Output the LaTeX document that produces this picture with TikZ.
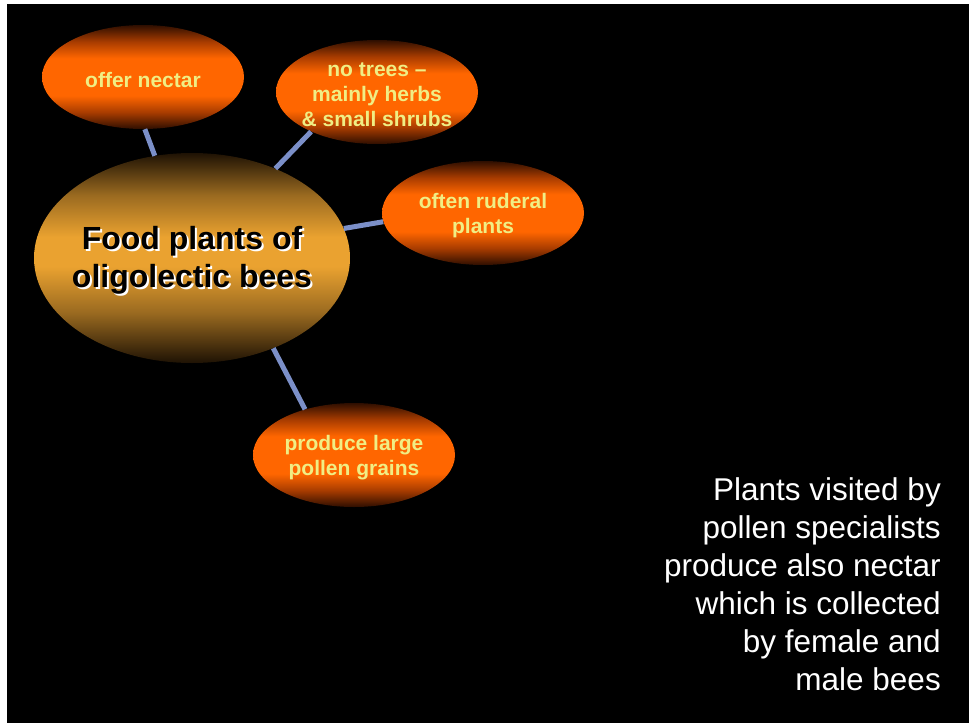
\documentclass[tikz,border=0pt]{standalone}
\usepackage{fontspec}
\setmainfont{Liberation Sans}
\usetikzlibrary{shapes.geometric}

\definecolor{linkblue}{HTML}{7B8FC8}
\definecolor{petalyellow}{HTML}{F0EE84}
\definecolor{petaldark}{HTML}{2E0E00}
\definecolor{petalmid}{HTML}{A83C00}
\definecolor{petalorange}{HTML}{FF6600}
\definecolor{fooddark}{HTML}{1E1204}
\definecolor{foodmid}{HTML}{9A6A20}
\definecolor{foodgold}{HTML}{EAA230}

\pgfdeclareverticalshading{petalshade}{100bp}{color(0bp)=(petaldark); color(25bp)=(petaldark); color(33bp)=(petalmid); color(41bp)=(petalorange); color(50bp)=(petalorange); color(59bp)=(petalorange); color(67bp)=(petalmid); color(75bp)=(petaldark); color(100bp)=(petaldark)}
\pgfdeclareverticalshading{foodshade}{100bp}{color(0bp)=(fooddark); color(25bp)=(fooddark); color(37bp)=(foodmid); color(48bp)=(foodgold); color(55bp)=(foodgold); color(65bp)=(foodmid); color(75bp)=(fooddark); color(100bp)=(fooddark)}

\newcommand\petalfont{\fontsize{21}{25}\selectfont\bfseries}
\newcommand\foodfont{\fontsize{32}{38}\selectfont\bfseries}
\newcommand\notefont{\fontsize{31.5}{38}\selectfont}
% black line with a white drop shadow
\newcommand\foodline[1]{\makebox[0pt][l]{\kern2pt\raisebox{-2pt}{\textcolor{white}{#1}}}#1}

\tikzset{
    petal/.style={ellipse, minimum width=202pt, minimum height=104pt, inner sep=0pt, shading=petalshade},
    petaltext/.style={font=\petalfont, text=petalyellow, align=center, yshift=-3pt},
    foodtext/.style={font=\foodfont, text=black, align=center, yshift=-3pt},
    link/.style={draw=linkblue, line width=5pt},
}

\begin{document}
\begin{tikzpicture}[x=1pt, y=-1pt]
    % page and dark slide
    \fill[white] (0,0) rectangle (969,723);
    \fill[black] (7,4) rectangle (969,723);

    % centre
    \node[ellipse, minimum width=316pt, minimum height=210pt, inner sep=0pt, shading=foodshade] (food) at (192,258) {};
    \node[foodtext] (foodlabel) at (food.center) {\foodline{Food plants of}\\\foodline{oligolectic bees}};

    % features
    \node[petal] (nectar) at (143,77) {};
    \node[petaltext] (nectarlabel) at (nectar.center) {offer nectar};
    \node[petal] (trees) at (377,92) {};
    \node[petaltext] (treeslabel) at (trees.center) {no trees --\\mainly herbs\\\& small shrubs};
    \node[petal] (ruderal) at (483,213) {};
    \node[petaltext] (ruderallabel) at (ruderal.center) {often ruderal\\plants};
    \node[petal] (pollen) at (354,455) {};
    \node[petaltext] (pollenlabel) at (pollen.center) {produce large\\pollen grains};

    % links
    \draw[link] (food.110.7) -- (nectar.272);
    \draw[link] (food.47.3) -- (trees.211);
    \draw[link] (food.11.6) -- (ruderal.185);
    \draw[link] (food.312) -- (pollen.137);

    % note
    \node[font=\notefont, text=white, align=right, anchor=east, inner sep=0pt] (note) at (941,584) {Plants visited by\\pollen specialists\\produce also nectar\\which is collected\\by female and\\male bees};
\end{tikzpicture}
\end{document}
